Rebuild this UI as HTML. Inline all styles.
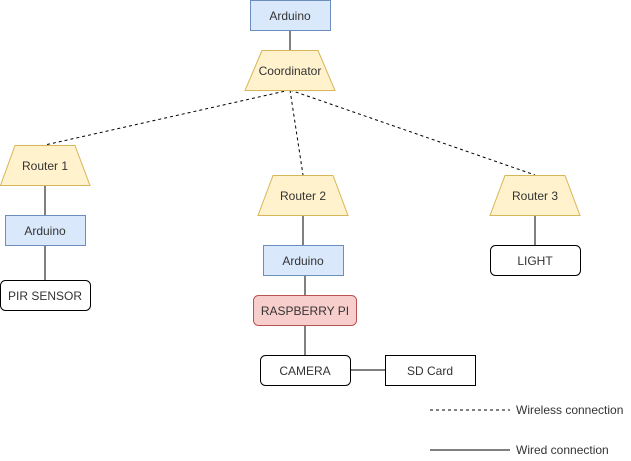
<!DOCTYPE html>
<html><head><style>body{margin:0;background:#fff}svg{display:block}</style></head><body>
<svg width="631" height="461" xmlns="http://www.w3.org/2000/svg" font-family="Liberation Sans, sans-serif" font-size="12" fill="#333">
<g stroke="#000" stroke-width="1" fill="none">
<line x1="290" y1="30" x2="290" y2="50"/>
<g stroke-dasharray="3,3">
<line x1="290" y1="90" x2="45" y2="145"/>
<line x1="290" y1="90" x2="303" y2="175"/>
<line x1="290" y1="90" x2="535" y2="175"/>
<line x1="430" y1="410" x2="510" y2="410"/>
</g>
<line x1="45" y1="185" x2="45" y2="215"/>
<line x1="45" y1="245" x2="45" y2="280"/>
<line x1="303" y1="215" x2="303" y2="245"/>
<line x1="305" y1="275" x2="305" y2="295"/>
<line x1="305" y1="325" x2="305" y2="355"/>
<line x1="350" y1="370" x2="385" y2="370"/>
<line x1="535" y1="215" x2="535" y2="245"/>
<line x1="430" y1="450" x2="510" y2="450"/>
</g>
<rect x="250.5" y="0.5" width="80" height="30" fill="#dae8fc" stroke="#6c8ebf"/>
<polygon points="262,50.5 318,50.5 335,90.5 245,90.5" fill="#fff2cc" stroke="#d6b656"/>
<polygon points="15,145.5 75,145.5 90,185.5 0.5,185.5" fill="#fff2cc" stroke="#d6b656"/>
<polygon points="273,175.5 333,175.5 348,215.5 258,215.5" fill="#fff2cc" stroke="#d6b656"/>
<polygon points="505,175.5 565,175.5 580,215.5 490,215.5" fill="#fff2cc" stroke="#d6b656"/>
<rect x="5.5" y="215.5" width="80" height="30" fill="#dae8fc" stroke="#6c8ebf"/>
<rect x="0.5" y="280.5" width="90" height="30" rx="5" fill="#fff" stroke="#000"/>
<rect x="263.5" y="245.5" width="80" height="30" fill="#dae8fc" stroke="#6c8ebf"/>
<rect x="253.5" y="295.5" width="103" height="30" rx="5" fill="#f8cecc" stroke="#b85450"/>
<rect x="260.5" y="355.5" width="90" height="30" rx="5" fill="#fff" stroke="#000"/>
<rect x="385.5" y="355.5" width="90" height="30" fill="#fff" stroke="#000"/>
<rect x="490.5" y="245.5" width="90" height="30" rx="5" fill="#fff" stroke="#000"/>
<g text-anchor="middle">
<text x="290" y="20">Arduino</text>
<text x="290" y="75">Coordinator</text>
<text x="45" y="170">Router 1</text>
<text x="303" y="200">Router 2</text>
<text x="535" y="200">Router 3</text>
<text x="45" y="235">Arduino</text>
<text x="45" y="300">PIR SENSOR</text>
<text x="303" y="265">Arduino</text>
<text x="305" y="315">RASPBERRY PI</text>
<text x="305" y="375">CAMERA</text>
<text x="430" y="375">SD Card</text>
<text x="535" y="265">LIGHT</text>
</g>
<text x="516" y="414">Wireless connection</text>
<text x="516" y="454">Wired connection</text>
</svg>
</body></html>
